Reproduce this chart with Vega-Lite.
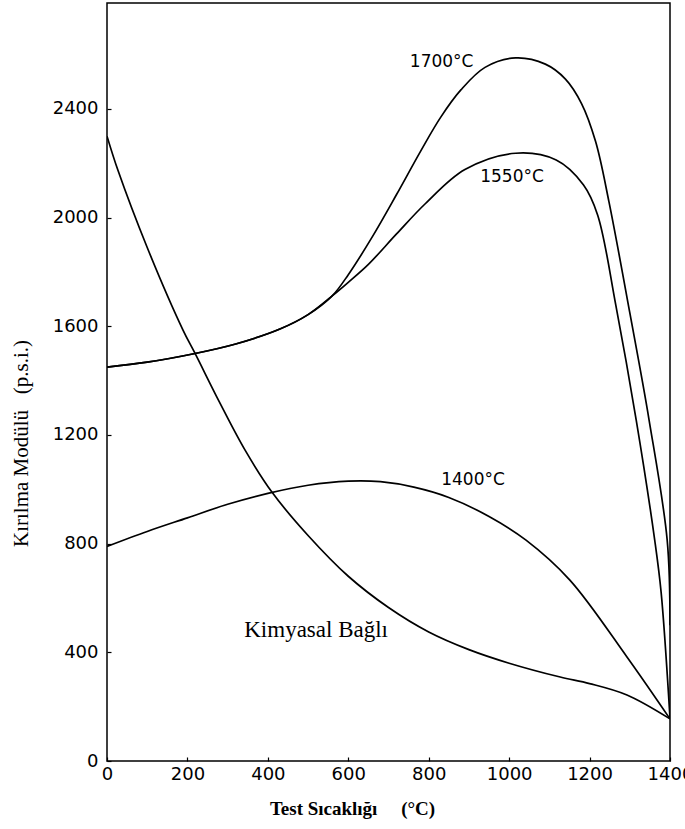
{
  "$schema": "https://vega.github.io/schema/vega-lite/v6.json",
  "width": 563,
  "height": 758,
  "autosize": "none",
  "padding": {"left": 107, "top": 3, "right": 15, "bottom": 68},
  "background": "white",
  "config": {"view": {"stroke": "black", "strokeWidth": 1.5}},
  "datasets": {
    "curves": [
      {"series": "1700", "temp": 0, "mor": 1450},
      {"series": "1700", "temp": 100, "mor": 1468},
      {"series": "1700", "temp": 219, "mor": 1500},
      {"series": "1700", "temp": 320, "mor": 1535},
      {"series": "1700", "temp": 430, "mor": 1590},
      {"series": "1700", "temp": 500, "mor": 1643},
      {"series": "1700", "temp": 560, "mor": 1712},
      {"series": "1700", "temp": 600, "mor": 1790},
      {"series": "1700", "temp": 660, "mor": 1930},
      {"series": "1700", "temp": 720, "mor": 2085},
      {"series": "1700", "temp": 780, "mor": 2245},
      {"series": "1700", "temp": 830, "mor": 2370},
      {"series": "1700", "temp": 880, "mor": 2470},
      {"series": "1700", "temp": 940, "mor": 2553},
      {"series": "1700", "temp": 1016, "mor": 2588},
      {"series": "1700", "temp": 1090, "mor": 2565},
      {"series": "1700", "temp": 1140, "mor": 2510},
      {"series": "1700", "temp": 1180, "mor": 2420},
      {"series": "1700", "temp": 1215, "mor": 2280},
      {"series": "1700", "temp": 1248, "mor": 2060},
      {"series": "1700", "temp": 1300, "mor": 1650},
      {"series": "1700", "temp": 1348, "mor": 1255},
      {"series": "1700", "temp": 1393, "mor": 813},
      {"series": "1700", "temp": 1400, "mor": 500},
      {"series": "1550", "temp": 0, "mor": 1450},
      {"series": "1550", "temp": 100, "mor": 1468},
      {"series": "1550", "temp": 219, "mor": 1500},
      {"series": "1550", "temp": 320, "mor": 1535},
      {"series": "1550", "temp": 430, "mor": 1590},
      {"series": "1550", "temp": 500, "mor": 1643},
      {"series": "1550", "temp": 560, "mor": 1712},
      {"series": "1550", "temp": 600, "mor": 1762},
      {"series": "1550", "temp": 650, "mor": 1828},
      {"series": "1550", "temp": 720, "mor": 1940},
      {"series": "1550", "temp": 792, "mor": 2052},
      {"series": "1550", "temp": 890, "mor": 2177},
      {"series": "1550", "temp": 1016, "mor": 2237},
      {"series": "1550", "temp": 1117, "mor": 2212},
      {"series": "1550", "temp": 1185, "mor": 2120},
      {"series": "1550", "temp": 1220, "mor": 2010},
      {"series": "1550", "temp": 1265, "mor": 1680},
      {"series": "1550", "temp": 1316, "mor": 1255},
      {"series": "1550", "temp": 1362, "mor": 813},
      {"series": "1550", "temp": 1378, "mor": 620},
      {"series": "1550", "temp": 1400, "mor": 158},
      {"series": "1400", "temp": 0, "mor": 790},
      {"series": "1400", "temp": 100, "mor": 845},
      {"series": "1400", "temp": 200, "mor": 895},
      {"series": "1400", "temp": 300, "mor": 945},
      {"series": "1400", "temp": 400, "mor": 985},
      {"series": "1400", "temp": 500, "mor": 1015},
      {"series": "1400", "temp": 600, "mor": 1030},
      {"series": "1400", "temp": 680, "mor": 1028},
      {"series": "1400", "temp": 763, "mor": 1008},
      {"series": "1400", "temp": 850, "mor": 970},
      {"series": "1400", "temp": 950, "mor": 900},
      {"series": "1400", "temp": 1042, "mor": 813},
      {"series": "1400", "temp": 1151, "mor": 666},
      {"series": "1400", "temp": 1293, "mor": 383},
      {"series": "1400", "temp": 1400, "mor": 155},
      {"series": "kimyasal", "temp": 0, "mor": 2300},
      {"series": "kimyasal", "temp": 27, "mor": 2175},
      {"series": "kimyasal", "temp": 100, "mor": 1890},
      {"series": "kimyasal", "temp": 189, "mor": 1586},
      {"series": "kimyasal", "temp": 219, "mor": 1500},
      {"series": "kimyasal", "temp": 280, "mor": 1320},
      {"series": "kimyasal", "temp": 343, "mor": 1145},
      {"series": "kimyasal", "temp": 410, "mor": 990},
      {"series": "kimyasal", "temp": 500, "mor": 830},
      {"series": "kimyasal", "temp": 600, "mor": 680},
      {"series": "kimyasal", "temp": 700, "mor": 565},
      {"series": "kimyasal", "temp": 800, "mor": 475},
      {"series": "kimyasal", "temp": 900, "mor": 410},
      {"series": "kimyasal", "temp": 1000, "mor": 360},
      {"series": "kimyasal", "temp": 1127, "mor": 309},
      {"series": "kimyasal", "temp": 1200, "mor": 285},
      {"series": "kimyasal", "temp": 1293, "mor": 243},
      {"series": "kimyasal", "temp": 1400, "mor": 155}
    ],
    "curveLabels": [
      {"label": "1700°C", "temp": 753, "mor": 2572},
      {"label": "1550°C", "temp": 928, "mor": 2149},
      {"label": "1400°C", "temp": 831, "mor": 1034}
    ],
    "mainLabel": [
      {"label": "Kimyasal Bağlı", "temp": 520, "mor": 482}
    ]
  },
  "encoding": {
    "x": {
      "field": "temp",
      "type": "quantitative",
      "scale": {"domain": [0, 1400], "nice": false, "zero": false},
      "axis": {
        "values": [0, 200, 400, 600, 800, 1000, 1200, 1400],
        "format": "d",
        "grid": false,
        "domain": false,
        "tickColor": "black",
        "tickSize": -4,
        "tickWidth": 1.2,
        "labelFont": "DejaVu Sans",
        "labelFontSize": 18,
        "labelColor": "black",
        "labelPadding": 8,
        "labelFlush": false,
        "labelOverlap": false,
        "title": "Test Sıcaklığı\u00a0\u00a0\u00a0\u00a0\u00a0(°C)",
        "titleFont": "Liberation Serif",
        "titleFontSize": 19,
        "titleFontWeight": "bold",
        "titleColor": "black",
        "titleX": 245,
        "titleY": 47,
        "titleAlign": "center",
        "titleBaseline": "middle"
      }
    },
    "y": {
      "field": "mor",
      "type": "quantitative",
      "scale": {"domain": [0, 2790], "nice": false, "zero": false},
      "axis": {
        "values": [0, 400, 800, 1200, 1600, 2000, 2400],
        "format": "d",
        "grid": false,
        "domain": false,
        "tickColor": "black",
        "tickSize": -4,
        "tickWidth": 1.2,
        "labelFont": "DejaVu Sans",
        "labelFontSize": 18,
        "labelColor": "black",
        "labelPadding": 13,
        "labelFlush": false,
        "labelOverlap": false,
        "title": "Kırılma Modülü\u00a0\u00a0\u00a0(p.s.i.)",
        "titleFont": "Liberation Serif",
        "titleFontSize": 21,
        "titleFontWeight": "normal",
        "titleColor": "black",
        "titleX": -86,
        "titleY": 440,
        "titleBaseline": "middle",
        "titleAlign": "center"
      }
    }
  },
  "layer": [
    {
      "data": {"name": "curves"},
      "mark": {"type": "line", "interpolate": "catmull-rom", "color": "black", "strokeWidth": 1.7, "clip": true},
      "encoding": {
        "detail": {"field": "series"},
        "order": {"field": "temp", "type": "quantitative"}
      }
    },
    {
      "data": {"name": "curveLabels"},
      "mark": {"type": "text", "align": "left", "baseline": "middle", "font": "DejaVu Sans", "fontSize": 17, "color": "black"},
      "encoding": {"text": {"field": "label"}}
    },
    {
      "data": {"name": "mainLabel"},
      "mark": {"type": "text", "align": "center", "baseline": "middle", "font": "Liberation Serif", "fontSize": 23, "color": "black"},
      "encoding": {"text": {"field": "label"}}
    }
  ]
}
